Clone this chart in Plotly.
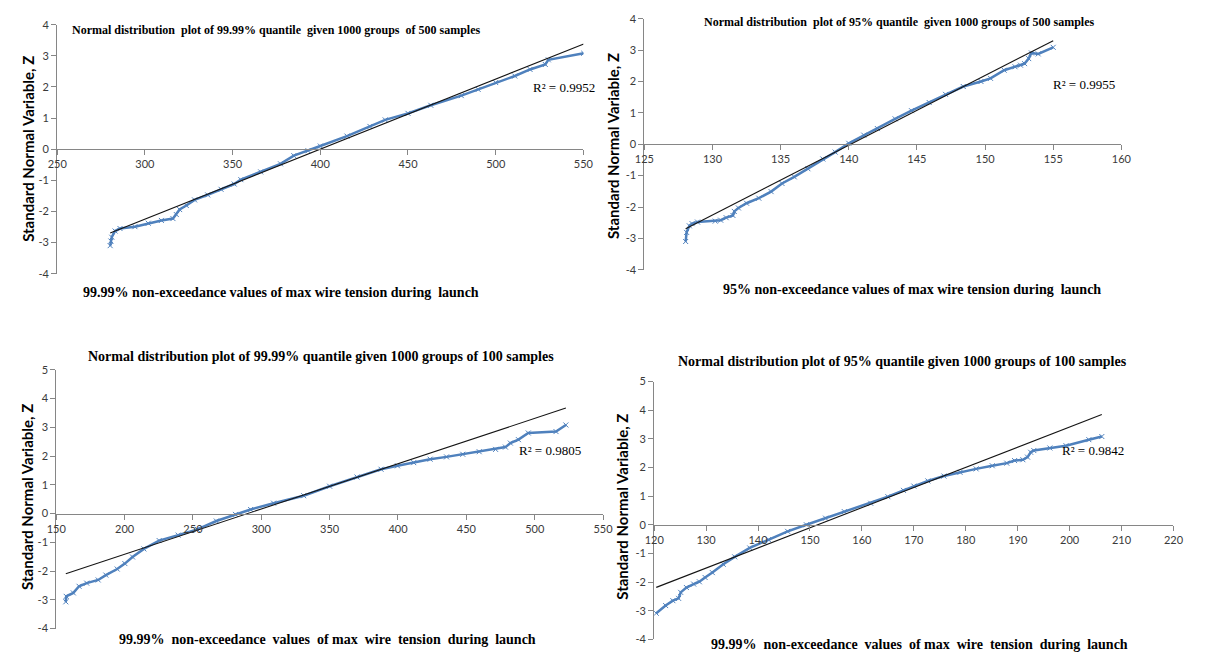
import plotly.graph_objects as go

W, H = 1212, 663

# ---- data: sorted quantile values (x) against standard normal variable (z) ----
p1_x = [280.2, 280.6, 281.1, 283.0, 285.8, 294.3, 301.9, 309.4, 316.0, 317.9, 319.8, 323.6,
        328.3, 335.8, 343.4, 350.9, 354.7, 366.0, 377.3, 384.9, 393.0, 400.0, 415.2, 428.3,
        437.0, 450.0, 463.0, 480.4, 490.0, 500.0, 510.9, 519.6, 528.3, 530.0, 550.2]
p1_z = [-3.10, -2.95, -2.83, -2.63, -2.55, -2.49, -2.38, -2.29, -2.23, -2.10, -1.94, -1.81,
        -1.63, -1.47, -1.29, -1.12, -0.98, -0.73, -0.47, -0.21, -0.05, 0.10, 0.42, 0.73,
        0.94, 1.15, 1.41, 1.72, 1.92, 2.14, 2.35, 2.56, 2.72, 2.87, 3.08]

p2_x = [128.03, 128.1, 128.3, 128.5, 128.9, 130.2, 130.6, 131.0, 131.5, 131.6, 131.9, 132.5,
        133.4, 134.3, 135.1, 136.0, 137.0, 138.1, 139.0, 140.0, 141.1, 142.1, 143.4, 144.6,
        145.9, 147.1, 148.4, 149.7, 150.4, 151.4, 152.2, 152.6, 152.9, 153.2, 153.4, 153.9, 155.0]
p2_z = [-3.10, -2.81, -2.60, -2.53, -2.48, -2.45, -2.42, -2.34, -2.27, -2.14, -2.03, -1.88,
        -1.72, -1.51, -1.25, -1.04, -0.78, -0.47, -0.25, 0.03, 0.29, 0.50, 0.81, 1.07,
        1.33, 1.59, 1.84, 2.00, 2.10, 2.36, 2.47, 2.52, 2.57, 2.73, 2.91, 2.88, 3.09]

p3_x = [157.0, 157.3, 162.5, 166.7, 172.3, 180.7, 186.3, 194.6, 200.2, 205.8, 214.1, 225.3,
        239.2, 253.2, 267.1, 281.1, 292.2, 309.0, 331.0, 350.0, 370.0, 387.6, 399.6, 411.5,
        423.5, 435.5, 447.4, 459.4, 471.4, 478.6, 482.2, 488.1, 495.3, 515.6, 522.8]
p3_z = [-3.07, -2.88, -2.76, -2.53, -2.42, -2.31, -2.14, -1.93, -1.74, -1.51, -1.23, -0.94,
        -0.75, -0.55, -0.26, -0.03, 0.14, 0.36, 0.62, 0.95, 1.27, 1.54, 1.66, 1.77,
        1.89, 1.97, 2.06, 2.15, 2.23, 2.31, 2.45, 2.57, 2.80, 2.85, 3.08]

p4_x = [120.4, 122.2, 123.6, 124.7, 125.1, 126.2, 127.6, 128.7, 129.8, 131.2, 133.3, 135.5,
        138.4, 142.0, 145.7, 149.3, 153.0, 156.6, 161.7, 165.0, 168.0, 170.0, 172.7, 175.8,
        178.9, 182.0, 185.1, 187.9, 189.4, 191.0, 191.9, 192.5, 193.1, 196.2, 199.3, 203.7, 206.2]
p4_z = [-3.09, -2.82, -2.65, -2.57, -2.36, -2.19, -2.07, -1.99, -1.84, -1.67, -1.38, -1.12,
        -0.81, -0.52, -0.23, 0.00, 0.23, 0.46, 0.75, 0.98, 1.20, 1.35, 1.53, 1.70,
        1.83, 1.95, 2.06, 2.15, 2.24, 2.27, 2.36, 2.53, 2.59, 2.68, 2.76, 2.97, 3.08]

# linear trend lines (slope, intercept) and their R² values
trend_slopes = [0.0225, 0.2223, 0.01575, 0.0703]
trend_intercepts = [-9.0, -31.155, -4.5675, -10.65]
r2_values = [0.9952, 0.9955, 0.9805, 0.9842]

# axis ticks
x_ticks = [
    [250, 300, 350, 400, 450, 500, 550],
    [125, 130, 135, 140, 145, 150, 155, 160],
    [150, 200, 250, 300, 350, 400, 450, 500, 550],
    [120, 130, 140, 150, 160, 170, 180, 190, 200, 210, 220],
]
y_ticks = [
    [-4, -3, -2, -1, 0, 1, 2, 3, 4],
    [-4, -3, -2, -1, 0, 1, 2, 3, 4],
    [-4, -3, -2, -1, 0, 1, 2, 3, 4, 5],
    [-4, -3, -2, -1, 0, 1, 2, 3, 4, 5],
]

titles = [
    "Normal distribution  plot of 99.99% quantile  given 1000 groups  of 500 samples",
    "Normal distribution  plot of 95% quantile  given 1000 groups of 500 samples",
    "Normal distribution plot of 99.99% quantile given 1000 groups of 100 samples",
    "Normal distribution plot of 95% quantile given 1000 groups of 100 samples",
]
x_titles = [
    "99.99% non-exceedance values of max wire tension during  launch",
    "95% non-exceedance values of max wire tension during  launch",
    "99.99%  non-exceedance  values  of max  wire  tension  during  launch",
    "99.99%  non-exceedance  values  of max  wire  tension  during  launch",
]
y_title = "Standard Normal Variable, Z"

series_x = [p1_x, p2_x, p3_x, p4_x]
series_z = [p1_z, p2_z, p3_z, p4_z]

# ---- layout geometry (pixels) ----
# axis extents: left px, right px, top px, bottom px
boxes = [
    (48, 583, 18, 272),
    (645, 1130, 12, 268),
    (47, 603, 370, 634),
    (655, 1183, 382, 645),
]
# title centre, x-title centre, y-title position, R² label position
title_pos = [(270, 23), (904, 15), (316, 356), (907, 362)]
xtitle_pos = [(276, 291), (917, 288), (323, 645), (925, 650)]
ytitle_pos = [(18, 145), (613, 142), (17, 500), (622, 510)]
r2_pos = [(530, 82), (1058, 79), (516, 452), (1068, 452)]

BLUE = "#4f81bd"
AXIS = "#868686"
SERIF = "Liberation Serif"
SANS = "Lato"


def px(x):
    return x / W


def py(y):
    return 1 - y / H


fig = go.Figure()
layout = dict(
    width=W, height=H, margin=dict(l=0, r=0, t=0, b=0),
    paper_bgcolor="white", plot_bgcolor="rgba(0,0,0,0)", showlegend=False,
)
annotations = []

for i in range(4):
    n = i + 1
    xa = "x" if n == 1 else f"x{n}"
    ya = "y" if n == 1 else f"y{n}"
    xs, zs = series_x[i], series_z[i]
    xl, xr, yt, yb = boxes[i]
    yr = [y_ticks[i][0], y_ticks[i][-1]]

    fig.add_trace(go.Scatter(
        x=xs, y=zs, xaxis=xa, yaxis=ya, mode="lines+markers",
        line=dict(color=BLUE, width=2.5),
        marker=dict(symbol="x-thin", size=5, color=BLUE, line=dict(width=1, color=BLUE)),
        hoverinfo="skip",
    ))
    x_lo, x_hi = min(xs), max(xs)
    fig.add_trace(go.Scatter(
        x=[x_lo, x_hi],
        y=[trend_slopes[i] * x_lo + trend_intercepts[i], trend_slopes[i] * x_hi + trend_intercepts[i]],
        xaxis=xa, yaxis=ya, mode="lines", line=dict(color="#141414", width=1.1), hoverinfo="skip",
    ))

    # x axis crosses the y axis at z = 0
    zero_frac = py(yb) + (0 - yr[0]) / (yr[1] - yr[0]) * (py(yt) - py(yb))
    layout["xaxis" if n == 1 else f"xaxis{n}"] = dict(
        domain=[px(xl), px(xr)], range=[x_ticks[i][0], x_ticks[i][-1]],
        anchor="free", position=zero_frac,
        showline=True, linecolor=AXIS, linewidth=1,
        ticks="outside", ticklen=5, tickcolor=AXIS,
        tickvals=x_ticks[i], ticktext=[str(v) for v in x_ticks[i]],
        showgrid=False, zeroline=False,
        tickfont=dict(family=SANS, size=11, color="#3a3a3a"),
    )
    layout["yaxis" if n == 1 else f"yaxis{n}"] = dict(
        domain=[py(yb), py(yt)], range=yr, anchor=xa,
        showline=True, linecolor=AXIS, linewidth=1,
        ticks="outside", ticklen=5, tickcolor=AXIS,
        tickvals=y_ticks[i], ticktext=[str(v) for v in y_ticks[i]],
        showgrid=False, zeroline=False,
        tickfont=dict(family=SANS, size=11, color="#3a3a3a"),
    )

    tx, ty = title_pos[i]
    annotations.append(dict(
        text=f"<b>{titles[i]}</b>", x=px(tx), y=py(ty), xref="paper", yref="paper",
        showarrow=False, xanchor="center", yanchor="middle",
        font=dict(family=SERIF, size=12 if i < 2 else 14, color="black"),
    ))
    tx, ty = xtitle_pos[i]
    annotations.append(dict(
        text=f"<b>{x_titles[i]}</b>", x=px(tx), y=py(ty), xref="paper", yref="paper",
        showarrow=False, xanchor="center", yanchor="middle",
        font=dict(family=SERIF, size=14, color="black"),
    ))
    tx, ty = ytitle_pos[i]
    annotations.append(dict(
        text=f"<b>{y_title}</b>", x=px(tx), y=py(ty), xref="paper", yref="paper",
        showarrow=False, xanchor="center", yanchor="middle", textangle=-90,
        font=dict(family=SANS, size=15, color="black"),
    ))
    tx, ty = r2_pos[i]
    annotations.append(dict(
        text=f"R² = {r2_values[i]:.4f}", x=px(tx), y=py(ty), xref="paper", yref="paper",
        showarrow=False, xanchor="left", yanchor="middle",
        font=dict(family=SERIF, size=13, color="black"),
    ))

layout["annotations"] = annotations
fig.update_layout(**layout)
fig.write_html("out.html")
